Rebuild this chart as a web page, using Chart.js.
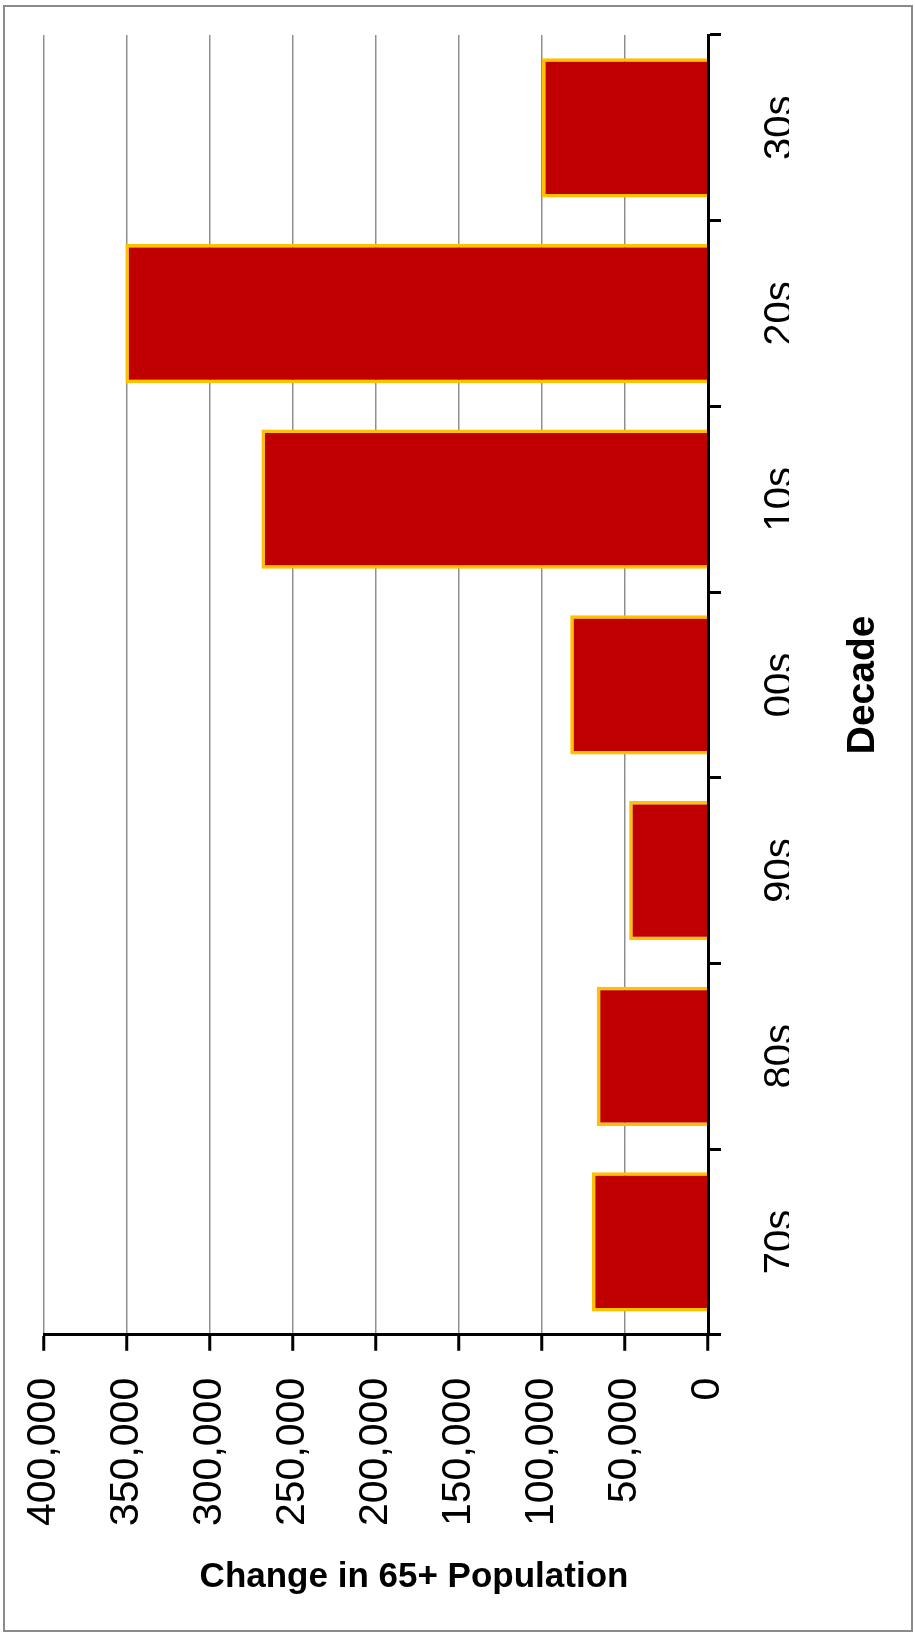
<!DOCTYPE html>
<html>
<head>
<meta charset="utf-8">
<script src="https://cdn.jsdelivr.net/npm/chart.js@4.4.1/dist/chart.umd.min.js"></script>
<style>
  html, body { margin: 0; padding: 0; background: #fff; }
  #wrap { position: relative; width: 915px; height: 1633px; }
  #frame { position: absolute; left: 3px; top: 5px; width: 910px; height: 1627px; box-sizing: border-box; border: 2px solid #8a8a8a; pointer-events: none; }
  canvas { position: absolute; left: 0; top: 0; }
</style>
</head>
<body>
<div id="wrap">
  <canvas id="decades" width="915" height="1633"></canvas>
  <div id="frame"></div>
</div>
<script>
const decades = ['70s', '80s', '90s', '00s', '10s', '20s', '30s'];
const growth = [70000, 67000, 47500, 83000, 269000, 351000, 100000];
const valueMin = 0;
const valueMax = 400000;
const valueStep = 50000;
const valueTitle = 'Change in 65+ Population';
const decadeTitle = 'Decade';

const canvas = document.getElementById('decades');

// axis titles drawn by hand: one is off-centre, the other reads bottom-to-top
const axisTitles = {
	id: 'axisTitles',
	afterDraw(chart) {
		const ctx = chart.ctx;
		const area = chart.chartArea;
		ctx.save();
		ctx.fillStyle = '#000';
		ctx.textAlign = 'center';
		ctx.textBaseline = 'alphabetic';

		ctx.font = 'bold 35px "Liberation Sans"';
		ctx.fillText(valueTitle, (area.left + area.right) / 2 + 38, area.bottom + 252);

		ctx.font = 'bold 39px "Liberation Sans"';
		ctx.translate(area.right + 166, (area.top + area.bottom) / 2);
		ctx.rotate(-Math.PI / 2);
		ctx.fillText(decadeTitle, 0, 0);
		ctx.restore();
	}
};

const growthChart = new Chart(canvas, {
	type: 'bar',
	data: {
		labels: decades,
		datasets: [
			{
				label: valueTitle,
				data: growth,
				backgroundColor: '#C00000',
				borderColor: '#FFC000',
				borderWidth: 3.5,
				borderSkipped: 'start',
				barPercentage: 0.75,
				categoryPercentage: 1.0
			}
		]
	},
	options: {
		indexAxis: 'y',
		responsive: false,
		animation: false,
		devicePixelRatio: 1,
		layout: {
			padding: { left: 44, top: 35, right: 126, bottom: 80 }
		},
		plugins: {
			legend: { display: false },
			tooltip: { enabled: false }
		},
		scales: {
			x: {
				position: 'bottom',
				reverse: true,
				min: valueMin,
				max: valueMax,
				ticks: {
					stepSize: valueStep,
					minRotation: 90,
					maxRotation: 90,
					autoSkip: false,
					padding: 27,
					color: '#000',
					font: { family: '"Liberation Sans"', size: 41 }
				},
				grid: {
					color: '#8f8f8f',
					lineWidth: 1.5,
					tickLength: 16,
					tickColor: '#000',
					tickWidth: 3
				},
				border: { color: '#000', width: 3 }
			},
			y: {
				position: 'right',
				reverse: true,
				z: 1,
				ticks: {
					minRotation: 90,
					maxRotation: 90,
					autoSkip: false,
					crossAlign: 'center',
					padding: 28,
					color: '#000',
					font: { family: '"Liberation Sans"', size: 40, lineHeight: 0.3 }
				},
				grid: {
					offset: true,
					drawOnChartArea: false,
					tickLength: 13,
					color: '#000',
					lineWidth: 3
				},
				border: { color: '#000', width: 3 }
			}
		}
	},
	plugins: [axisTitles]
});
</script>
</body>
</html>
